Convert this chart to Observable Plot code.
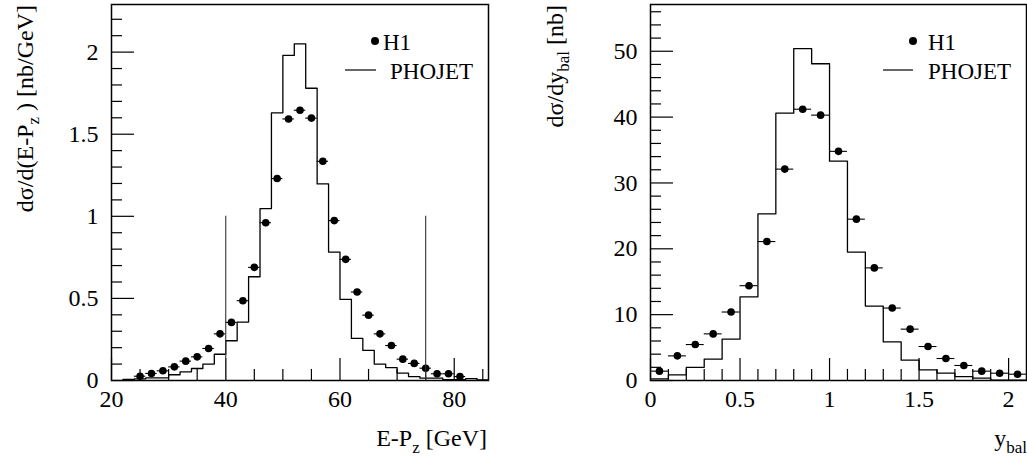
<!DOCTYPE html>
<html><head><meta charset="utf-8">
<script src="https://cdn.jsdelivr.net/npm/d3@7"></script>
<script src="https://cdn.jsdelivr.net/npm/@observablehq/plot@0.6"></script>
<style>
body{margin:0;background:#fff}
#wrap{position:relative;width:1027px;height:470px;overflow:hidden}
#wrap svg{position:absolute;top:0}
</style>
</head><body><div id="wrap"></div>
<script>
// ---------- data: left panel (E-Pz) ----------
const epzCenters = [25,27,29,31,33,35,37,39,41,43,45,47,49,51,53,55,57,59,61,63,65,67,69,71,73,75,77,79,81];
const epzH1 = [0.026,0.043,0.059,0.083,0.118,0.144,0.195,0.284,0.354,0.486,0.689,0.961,1.23,1.593,1.646,1.598,1.335,0.974,0.738,0.539,0.398,0.284,0.213,0.130,0.104,0.075,0.041,0.041,0.024];
const epzHalfWidth = 1;
const epzEdges = [22,24,26,28,30,32,34,36,38,40,42,44,46,48,50,52,54,56,58,60,62,64,66,68,70,72,74,76,78,80,82,84,86];
const epzPhojet = [0.006,0.010,0.016,0.016,0.035,0.053,0.073,0.100,0.160,0.242,0.356,0.632,1.047,1.63,1.98,2.05,1.78,1.197,0.782,0.494,0.256,0.183,0.100,0.079,0.045,0.023,0.014,0.014,0.005,0.005,0.012,0.003];
const epzCuts = [40, 75];
const epzCutHeight = 1;
const epzXDomain = [20, 86];
const epzYDomain = [0, 2.29];
const epzXMajor = [20, 40, 60, 80];
const epzXMinor = [25, 30, 35, 45, 50, 55, 65, 70, 75, 85];
const epzYMajor = [0, 0.5, 1, 1.5, 2];
const epzYMinor = [0.1,0.2,0.3,0.4,0.6,0.7,0.8,0.9,1.1,1.2,1.3,1.4,1.6,1.7,1.8,1.9,2.1,2.2];

// ---------- data: right panel (y_bal) ----------
const ybalCenters = [0.05,0.15,0.25,0.35,0.45,0.55,0.65,0.75,0.85,0.95,1.05,1.15,1.25,1.35,1.45,1.55,1.65,1.75,1.85,1.95,2.05];
const ybalH1 = [1.42,3.74,5.46,7.08,10.4,14.4,21.1,32.1,41.2,40.3,34.8,24.5,17.1,11.0,7.8,5.16,3.34,2.28,1.42,1.11,0.96];
const ybalHalfWidth = 0.05;
const ybalEdges = [0,0.1,0.2,0.3,0.4,0.5,0.6,0.7,0.8,0.9,1.0,1.1,1.2,1.3,1.4,1.5,1.6,1.7,1.8,1.9,2.0,2.1];
const ybalPhojet = [0.25,0.86,2.0,3.24,6.27,12.7,25.3,40.6,50.4,48.1,33.3,19.5,11.3,5.87,3.08,1.62,1.11,0.6,0.35,0.05,0.05];
const ybalXDomain = [0, 2.1];
const ybalYDomain = [0, 57.1];
const ybalXMajor = [0, 0.5, 1, 1.5, 2];
const ybalXMinor = [0.1,0.2,0.3,0.4,0.6,0.7,0.8,0.9,1.1,1.2,1.3,1.4,1.6,1.7,1.8,1.9];
const ybalYMajor = [0, 10, 20, 30, 40, 50];
const ybalYMinor = [2,4,6,8,12,14,16,18,22,24,26,28,32,34,36,38,42,44,46,48,52,54,56];

const legendLabels = ["H1", "PHOJET"];

// ---------- drawing ----------
const FONT = "'Liberation Serif', 'Times New Roman', serif";
const H = 470;

function panel(o) {
  const fw = o.width - o.ml - o.mr;
  const fh = H - o.mt - o.mb;
  const pts = o.centers.map((c, i) => ({x: c, y: o.h1[i]}));
  const steps = o.edges.map((e, i) => ({x: e, y: o.phojet[Math.min(i, o.phojet.length - 1)]}));
  const marks = [
    Plot.tickY(o.yMajor, {y: d => d, insetRight: fw - 23, stroke: "black", strokeWidth: 1.2}),
    Plot.tickY(o.yMinor, {y: d => d, insetRight: fw - 11, stroke: "black", strokeWidth: 1.2}),
    Plot.tickX(o.xMajor, {x: d => d, insetTop: fh - 22, stroke: "black", strokeWidth: 1.2}),
    Plot.tickX(o.xMinor, {x: d => d, insetTop: fh - 11, stroke: "black", strokeWidth: 1.2}),
    Plot.text(o.xMajor, {x: d => d, text: d => String(d), frameAnchor: "bottom", dy: 26, fontSize: 24, fill: "black"}),
    Plot.text(o.yMajor, {y: d => d, text: d => String(d), frameAnchor: "left", dx: -13, textAnchor: "end", fontSize: 24, fill: "black"}),
    Plot.line(steps, {x: "x", y: "y", curve: "step-after", stroke: "black", strokeWidth: 1.3}),
    Plot.ruleY(pts, {y: "y", x1: d => d.x - o.hw, x2: d => d.x + o.hw, stroke: "black", strokeWidth: 1.1}),
    Plot.dot(pts, {x: "x", y: "y", r: 3.8, fill: "black", stroke: "none"}),
    Plot.frame({stroke: "black", strokeWidth: 1.5})
  ];
  if (o.cuts) marks.push(Plot.ruleX(o.cuts, {x: d => d, y1: 0, y2: o.cutHeight, stroke: "#333", strokeWidth: 1.1}));
  const svg = Plot.plot({
    width: o.width, height: H,
    marginLeft: o.ml, marginRight: o.mr, marginTop: o.mt, marginBottom: o.mb,
    x: {domain: o.xDomain, axis: null},
    y: {domain: o.yDomain, axis: null},
    style: {fontFamily: FONT, fontSize: "24px", background: "white", overflow: "visible"},
    marks
  });
  svg.style.left = o.left + "px";
  const s = d3.select(svg);
  // y title (rotated)
  const yt = s.append("text").attr("transform", `translate(${o.ytX},5) rotate(-90)`)
    .attr("text-anchor", "end").attr("font-size", 24).attr("font-family", FONT).attr("fill", "black");
  o.yTitle.forEach(([t, sub]) => {
    if (sub) { yt.append("tspan").attr("dy", 6).attr("font-size", 17).text(t); }
    else { yt.append("tspan").attr("dy", yt.selectAll("tspan").size() ? -6 : 0).text(t); }
  });
  // x title
  const xt = s.append("text").attr("x", o.xtX).attr("y", 453)
    .attr("text-anchor", "end").attr("font-size", 24).attr("font-family", FONT).attr("fill", "black");
  o.xTitle.forEach(([t, sub]) => {
    if (sub) { xt.append("tspan").attr("dy", 7).attr("font-size", 17).text(t); }
    else { xt.append("tspan").attr("dy", xt.selectAll("tspan").size() ? -7 : 0).text(t); }
  });
  // legend
  const L = o.legend;
  s.append("circle").attr("cx", L.dotX).attr("cy", 41).attr("r", 4).attr("fill", "black");
  s.append("text").attr("x", L.h1X).attr("y", 50).attr("text-anchor", "start").attr("font-size", 23).attr("font-family", FONT).attr("fill", "black").text(legendLabels[0]);
  s.append("line").attr("x1", L.lineX1).attr("x2", L.lineX2).attr("y1", 70).attr("y2", 70).attr("stroke", "black").attr("stroke-width", 1.2);
  s.append("text").attr("x", L.phX).attr("y", 79).attr("text-anchor", "start").attr("font-size", 23).attr("font-family", FONT).attr("fill", "black").text(legendLabels[1]);
  document.getElementById("wrap").appendChild(svg);
}

panel({
  left: 0, width: 513, ml: 111, mr: 25, mt: 4, mb: 90,
  centers: epzCenters, h1: epzH1, hw: epzHalfWidth, edges: epzEdges, phojet: epzPhojet,
  cuts: epzCuts, cutHeight: epzCutHeight,
  xDomain: epzXDomain, yDomain: epzYDomain,
  xMajor: epzXMajor, xMinor: epzXMinor, yMajor: epzYMajor, yMinor: epzYMinor,
  ytX: 39, yTitle: [["dσ/d(E-P"], ["z", true], [" ) [nb/GeV]"]],
  xtX: 487, xTitle: [["E-P"], ["z", true], [" [GeV]"]],
  legend: {dotX: 375, h1X: 383, lineX1: 345, lineX2: 376, phX: 390}
});
panel({
  left: 513, width: 514, ml: 137, mr: 1, mt: 4, mb: 90,
  centers: ybalCenters, h1: ybalH1, hw: ybalHalfWidth, edges: ybalEdges, phojet: ybalPhojet,
  xDomain: ybalXDomain, yDomain: ybalYDomain,
  xMajor: ybalXMajor, xMinor: ybalXMinor, yMajor: ybalYMajor, yMinor: ybalYMinor,
  ytX: 56, yTitle: [["dσ/dy"], ["bal", true], [" [nb]"]],
  xtX: 514, xTitle: [["y"], ["bal", true]],
  legend: {dotX: 400, h1X: 415, lineX1: 370, lineX2: 400, phX: 415}
});
</script>
</body></html>
